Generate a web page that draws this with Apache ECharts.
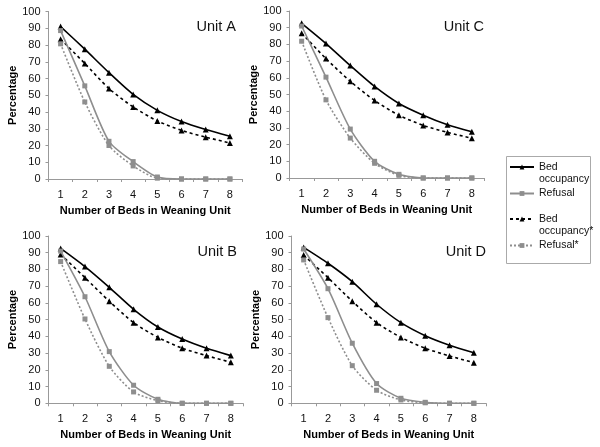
<!DOCTYPE html>
<html>
<head>
<meta charset="utf-8">
<script src="https://cdn.jsdelivr.net/npm/echarts@6/dist/echarts.min.js"></script>
<style>
  html, body { margin: 0; padding: 0; background: #fff; }
  #chart { width: 600px; height: 447px; }
</style>
</head>
<body>
<div id="chart"></div>
<script>
// categories (number of beds)
const beds = ["1", "2", "3", "4", "5", "6", "7", "8"];
const yTicks = [0, 10, 20, 30, 40, 50, 60, 70, 80, 90, 100];

// Unit A
const bedOccA = [91, 77.5, 63.5, 50.5, 41, 34.3, 29.5, 25.5];
const refusalA = [88.6, 55.6, 22.5, 10.4, 1.2, 0, 0, 0];
const bedOccStarA = [83.5, 69, 54, 43, 34.7, 29, 25, 21.5];
const refusalStarA = [80.7, 46, 20, 7.8, 0.5, 0, 0, 0];

// Unit C
const bedOccC = [92.6, 80.5, 67.3, 54.8, 44.6, 37.6, 31.9, 27.7];
const refusalC = [91, 60.4, 29.3, 10, 2.2, 0, 0, 0];
const bedOccStarC = [86.7, 71.5, 57.9, 46.4, 37.6, 31.5, 27.3, 23.8];
const refusalStarC = [81.9, 46.8, 23.9, 8.8, 1.6, 0, 0, 0];

// Unit B
const bedOccB = [92.6, 81.7, 69.3, 56.2, 45.6, 38.4, 32.9, 28.5];
const refusalB = [91, 63.7, 30.9, 10.8, 2.4, 0, 0, 0];
const bedOccStarB = [89, 75.1, 61, 48.2, 39.4, 32.9, 28.5, 24.5];
const refusalStarB = [84.7, 50.4, 22.1, 6.8, 1.6, 0, 0, 0];

// Unit D
const bedOccD = [93.2, 83.7, 72.7, 59.2, 48.2, 40.4, 34.7, 30.2];
const refusalD = [92.2, 68.5, 35.9, 11.8, 3, 0.6, 0, 0];
const bedOccStarD = [88.6, 75.1, 61, 48.2, 39.4, 32.9, 28.3, 24.3];
const refusalStarD = [85.7, 51.2, 22.5, 7.8, 2, 0.3, 0, 0];

const unitTitles = ["Unit A", "Unit C", "Unit B", "Unit D"];
const unitData = [
  [bedOccA, refusalA, bedOccStarA, refusalStarA],
  [bedOccC, refusalC, bedOccStarC, refusalStarC],
  [bedOccB, refusalB, bedOccStarB, refusalStarB],
  [bedOccD, refusalD, bedOccStarD, refusalStarD],
];
const seriesNames = ["Bed occupancy", "Refusal", "Bed occupancy*", "Refusal*"];
// leading blank line keeps the key line level with the first word
const legendLabels = ["\nBed\noccupancy", "Refusal", "\nBed\noccupancy*", "Refusal*"];

const FONT = "Liberation Sans";
const GRAY = "#8e8e8e";

// plot areas: A, C (top row), B, D (bottom row)
const grids = [
  { left: 48.5, top: 11.5, width: 193.5, height: 167.5 },
  { left: 289.5, top: 11, width: 194.5, height: 167 },
  { left: 48.5, top: 236, width: 194.5, height: 167.3 },
  { left: 291.5, top: 236, width: 194.5, height: 167.3 },
];

const seriesStyles = [
  { color: "#000", type: "solid", symbol: "triangle", size: 6, width: 1.6 },
  { color: GRAY, type: "solid", symbol: "rect", size: 5, width: 1.6 },
  { color: "#000", type: [3, 3], symbol: "triangle", size: 6, width: 1.6 },
  { color: GRAY, type: [2, 2], symbol: "rect", size: 5, width: 1.6 },
];

const xAxes = grids.map((g, i) => ({
  type: "category",
  gridIndex: i,
  data: beds,
  boundaryGap: true,
  name: "Number of Beds in Weaning Unit",
  nameLocation: "middle",
  nameGap: 26,
  nameTextStyle: { fontFamily: FONT, fontSize: 11, fontWeight: "bold", color: "#000" },
  axisLine: { lineStyle: { color: "#999", width: 1 } },
  axisTick: { show: true, length: 3, lineStyle: { color: "#999" } },
  axisLabel: { fontFamily: FONT, fontSize: 11, color: "#111", margin: 10 },
  splitLine: { show: false },
}));

const yAxes = grids.map((g, i) => ({
  type: "value",
  gridIndex: i,
  min: yTicks[0],
  max: yTicks[yTicks.length - 1],
  interval: 10,
  name: "Percentage",
  nameLocation: "middle",
  nameGap: 30,
  nameTextStyle: { fontFamily: FONT, fontSize: 11, fontWeight: "bold", color: "#000" },
  axisLine: { show: true, lineStyle: { color: "#999", width: 1 } },
  axisTick: { show: true, length: 3, lineStyle: { color: "#999" } },
  axisLabel: { fontFamily: FONT, fontSize: 11, color: "#111", margin: 8 },
  splitLine: { show: false },
}));

const series = [];
unitData.forEach((lines, gi) => {
  lines.forEach((vals, si) => {
    const st = seriesStyles[si];
    series.push({
      name: seriesNames[si],
      type: "line",
      xAxisIndex: gi,
      yAxisIndex: gi,
      data: vals,
      smooth: 0.25,
      symbol: st.symbol,
      symbolSize: st.size,
      itemStyle: { color: st.color },
      lineStyle: { color: st.color, width: st.width, type: st.type },
      z: si < 2 ? 3 : 2,
      animation: false,
    });
  });
});

// legend: one entry each so the layout matches the boxed key
const legendCenters = [167, 193.5, 219, 245.5];
const legends = seriesNames.map((n, i) => {
  const lines = legendLabels[i].split("\n").length;
  return {
    data: [n],
    left: 509,
    top: legendCenters[i] - (lines * 12.5) / 2,
    orient: "vertical",
    itemWidth: 24,
    itemHeight: 6,
    itemGap: 0,
    padding: 0,
    formatter: () => legendLabels[i],
    textStyle: { fontFamily: FONT, fontSize: 10.5, color: "#111", lineHeight: 12.5 },
    selectedMode: false,
  };
});

const titles = unitTitles.map((t, i) => ({
  text: t,
  right: 600 - (grids[i].left + grids[i].width) + (i === 1 || i === 3 ? 0 : 6),
  top: grids[i].top + 8,
  padding: 0,
  textStyle: { fontFamily: FONT, fontSize: 14.5, fontWeight: "normal", color: "#111" },
}));

const chart = echarts.init(document.getElementById("chart"), null, { renderer: "canvas" });
chart.setOption({
  backgroundColor: "#fff",
  animation: false,
  title: titles,
  grid: grids,
  xAxis: xAxes,
  yAxis: yAxes,
  legend: legends,
  series: series,
  graphic: [
    {
      type: "rect",
      shape: { x: 506.5, y: 156.5, width: 84, height: 107 },
      style: { fill: "none", stroke: "#aaa", lineWidth: 1 },
      z: -1,
    },
  ],
});
</script>
</body>
</html>
